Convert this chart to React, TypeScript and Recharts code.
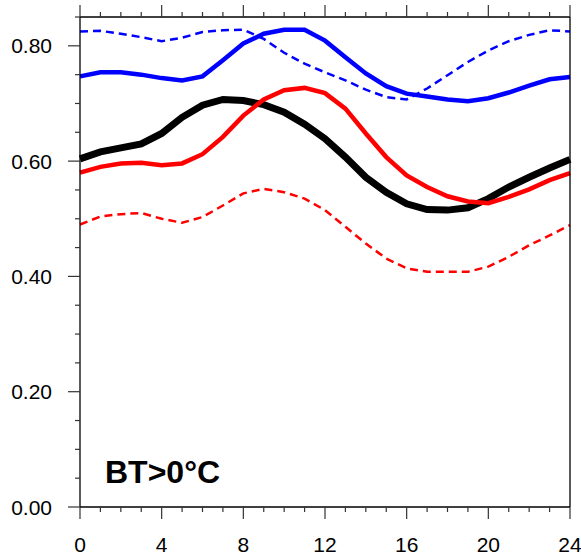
import { LineChart, Line, XAxis, YAxis } from 'recharts';

const hours = [0, 1, 2, 3, 4, 5, 6, 7, 8, 9, 10, 11, 12, 13, 14, 15, 16, 17, 18, 19, 20, 21, 22, 23, 24];

const black = [0.604, 0.616, 0.623, 0.630, 0.648, 0.676, 0.697, 0.707, 0.705, 0.698, 0.685, 0.664, 0.639, 0.607, 0.572, 0.546, 0.526, 0.516, 0.515, 0.519, 0.535, 0.555, 0.572, 0.588, 0.603];
const redSolid = [0.580, 0.590, 0.596, 0.597, 0.593, 0.596, 0.612, 0.642, 0.679, 0.707, 0.723, 0.727, 0.718, 0.691, 0.648, 0.607, 0.575, 0.555, 0.539, 0.530, 0.527, 0.538, 0.551, 0.567, 0.579];
const redDashed = [0.490, 0.504, 0.508, 0.510, 0.500, 0.493, 0.503, 0.523, 0.544, 0.552, 0.546, 0.535, 0.515, 0.486, 0.457, 0.431, 0.414, 0.408, 0.408, 0.408, 0.417, 0.434, 0.454, 0.471, 0.489];
const blueSolid = [0.747, 0.754, 0.754, 0.750, 0.744, 0.740, 0.747, 0.775, 0.804, 0.821, 0.828, 0.828, 0.809, 0.780, 0.752, 0.730, 0.717, 0.712, 0.707, 0.704, 0.709, 0.719, 0.731, 0.742, 0.746];
const blueDashed = [0.825, 0.826, 0.821, 0.815, 0.808, 0.814, 0.824, 0.827, 0.828, 0.812, 0.788, 0.769, 0.754, 0.740, 0.724, 0.711, 0.707, 0.726, 0.749, 0.772, 0.792, 0.808, 0.819, 0.827, 0.825];

const xTicks = hours;
const yTicks = [0, 0.05, 0.1, 0.15, 0.2, 0.25, 0.3, 0.35, 0.4, 0.45, 0.5, 0.55, 0.6, 0.65, 0.7, 0.75, 0.8, 0.85];

const data = hours.map((h, i) => ({
  h,
  black: black[i],
  redSolid: redSolid[i],
  redDashed: redDashed[i],
  blueSolid: blueSolid[i],
  blueDashed: blueDashed[i],
}));

const font = '"Liberation Sans", Arial, Helvetica, sans-serif';
const tickColor = '#333';

const isMajorX = (v: number) => v % 4 === 0;
const isMajorY = (v: number) => Math.round(v * 100) % 20 === 0;

const BottomTick = ({ x, y, payload }: any) => {
  const major = isMajorX(payload.value);
  return (
    <g>
      <line x1={x} x2={x} y1={y} y2={y + (major ? 12 : 5)} stroke={tickColor} strokeWidth={1.2} />
      {major && (
        <text x={x} y={y + 44.5} textAnchor="middle" fontSize={21} fontFamily={font} fill="#000">
          {payload.value}
        </text>
      )}
    </g>
  );
};

const TopTick = ({ x, y, payload }: any) => {
  const major = isMajorX(payload.value);
  return <line x1={x} x2={x} y1={y} y2={y - (major ? 12 : 5)} stroke={tickColor} strokeWidth={1.2} />;
};

const LeftTick = ({ x, y, payload }: any) => {
  const major = isMajorY(payload.value);
  return (
    <g>
      <line x1={x} x2={x - (major ? 12 : 5)} y1={y} y2={y} stroke={tickColor} strokeWidth={1.2} />
      {major && (
        <text x={x - 28} y={y} dy="0.36em" textAnchor="end" fontSize={21} fontFamily={font} fill="#000">
          {payload.value.toFixed(2)}
        </text>
      )}
    </g>
  );
};

const RightTick = ({ x, y, payload }: any) => {
  const major = isMajorY(payload.value);
  return <line x1={x} x2={x + (major ? 12 : 5)} y1={y} y2={y} stroke={tickColor} strokeWidth={1.2} />;
};

export default function App() {
  return (
    <div style={{ position: 'absolute', left: 0, top: 0, background: '#fff' }}>
      <LineChart width={581} height={556} data={data} margin={{ top: 0, right: 0, bottom: 0, left: 0 }}>
        <XAxis
          xAxisId="bottom"
          dataKey="h"
          type="number"
          domain={[0, 24]}
          ticks={xTicks}
          orientation="bottom"
          height={49}
          tickSize={0}
          tickMargin={0}
          tickLine={false}
          tick={<BottomTick />}
          axisLine={{ stroke: '#000', strokeWidth: 1.3 }}
          interval={0}
        />
        <XAxis
          xAxisId="top"
          dataKey="h"
          type="number"
          domain={[0, 24]}
          ticks={xTicks}
          orientation="top"
          height={17}
          tickSize={0}
          tickMargin={0}
          tickLine={false}
          tick={<TopTick />}
          axisLine={{ stroke: '#000', strokeWidth: 1.3 }}
          interval={0}
        />
        <YAxis
          yAxisId="left"
          type="number"
          domain={[0, 0.85]}
          ticks={yTicks}
          orientation="left"
          width={80}
          tickSize={0}
          tickMargin={0}
          tickLine={false}
          tick={<LeftTick />}
          axisLine={{ stroke: '#000', strokeWidth: 1.3 }}
          interval={0}
        />
        <YAxis
          yAxisId="right"
          type="number"
          domain={[0, 0.85]}
          ticks={yTicks}
          orientation="right"
          width={11}
          tickSize={0}
          tickMargin={0}
          tickLine={false}
          tick={<RightTick />}
          axisLine={{ stroke: '#000', strokeWidth: 1.3 }}
          interval={0}
        />
        <Line xAxisId="bottom" yAxisId="left" type="linear" dataKey="blueDashed" stroke="#0000ff" strokeWidth={2.5} strokeDasharray="8 5" dot={false} isAnimationActive={false} />
        <Line xAxisId="bottom" yAxisId="left" type="linear" dataKey="redDashed" stroke="#ff0000" strokeWidth={2.5} strokeDasharray="8 5" dot={false} isAnimationActive={false} />
        <Line xAxisId="bottom" yAxisId="left" type="linear" dataKey="blueSolid" stroke="#0000ff" strokeWidth={4.5} dot={false} isAnimationActive={false} />
        <Line xAxisId="bottom" yAxisId="left" type="linear" dataKey="black" stroke="#000000" strokeWidth={7} dot={false} isAnimationActive={false} />
        <Line xAxisId="bottom" yAxisId="left" type="linear" dataKey="redSolid" stroke="#ff0000" strokeWidth={4.5} dot={false} isAnimationActive={false} />
        <text x={105} y={483} fontSize={32} fontWeight="bold" fontFamily={font} fill="#000">
          BT&gt;0°C
        </text>
      </LineChart>
    </div>
  );
}
